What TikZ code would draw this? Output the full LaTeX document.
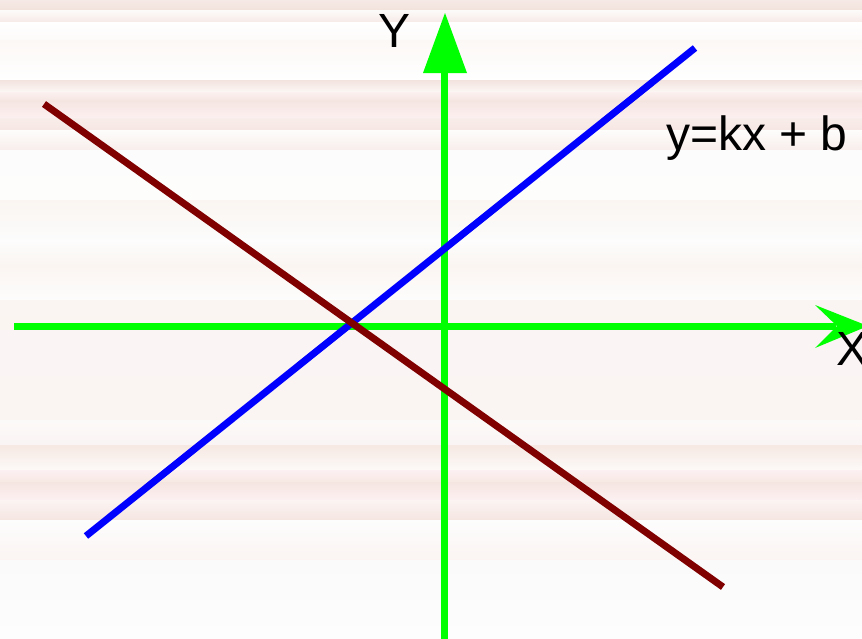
\documentclass[tikz,border=0pt]{standalone}
\usepackage{fontspec}
\setmainfont{Liberation Sans}
\begin{document}
\begin{tikzpicture}[x=1pt,y=-1pt,
  graphline/.style={line width=7pt},
  lbl/.style={font=\fontsize{48}{52}\selectfont, inner sep=0pt, text=black}]
\definecolor{axgreen}{RGB}{0,255,0}
\definecolor{lblue}{RGB}{0,0,255}
\definecolor{lmaroon}{RGB}{128,0,0}
\definecolor{c0}{HTML}{F2E2DC}
\definecolor{c1}{HTML}{F6EAE6}
\definecolor{c2}{HTML}{FDFBFA}
\definecolor{c3}{HTML}{FFFFFF}
\definecolor{c4}{HTML}{FCF8F6}
\definecolor{c5}{HTML}{F3E3DE}
\definecolor{c6}{HTML}{FCF0F0}
\definecolor{c7}{HTML}{F6E6E3}
\definecolor{c8}{HTML}{F8EDEA}
\definecolor{c9}{HTML}{FDFDFC}
\definecolor{c10}{HTML}{FCFCFC}
\definecolor{c11}{HTML}{FAF5F1}
\definecolor{c12}{HTML}{FDFDFD}
\definecolor{c13}{HTML}{FBF5F1}
\definecolor{c14}{HTML}{FAF4F3}
\definecolor{c15}{HTML}{FAF4F4}
\definecolor{c16}{HTML}{FCFAF8}
\definecolor{c17}{HTML}{F6E8E2}
\definecolor{c18}{HTML}{FDF0F2}
\definecolor{c19}{HTML}{F5E5E1}
\definecolor{c20}{HTML}{FBF4F2}
\definecolor{c21}{HTML}{FDFDFD}
\definecolor{c22}{HTML}{FBFAFA}
% background
\useasboundingbox (0,0) rectangle (862,638);
\foreach \ya/\yb/\ca/\cb in {0/10/c0/c1,10/22/c1/c2,22/40/c2/c3,40/80/c3/c4,80/92/c4/c5,92/102/c5/c6,102/118/c6/c7,118/130/c7/c8,130/150/c8/c9,150/200/c9/c10,200/240/c10/c11,240/265/c11/c12,265/300/c12/c13,300/330/c13/c14,330/420/c14/c15,420/445/c15/c16,445/470/c16/c17,470/482/c17/c18,482/500/c18/c19,500/520/c19/c20,520/560/c20/c21,560/638.5/c21/c22}
  \shade[top color=\ca, bottom color=\cb, shading angle=180] (0,\ya) rectangle (862,\yb+0.5);
% coordinates
\coordinate (xl) at (14,326);
\coordinate (xr) at (836,326);
\coordinate (yb) at (444,640);
\coordinate (yt) at (444,72);
\coordinate (b1) at (86,536);
\coordinate (b2) at (695,48);
\coordinate (m1) at (44,104);
\coordinate (m2) at (723,587);
% axes
\draw[axgreen, line width=7pt] (xl) -- (xr);
\draw[axgreen, line width=7pt] (yb) -- (yt);
\fill[axgreen] (445,13) -- (467,73) -- (423,73) -- cycle;
\fill[axgreen] (868,326) -- (815,305) -- (837,326) -- (815,348) -- cycle;
% lines
\draw[lblue, graphline] (b1) -- (b2);
\draw[lmaroon, graphline] (m1) -- (m2);
% labels
\node[lbl] (ylab) at (395,31) {Y};
\node[lbl] (xlab) at (852,349) {X};
\node[lbl, anchor=west] (eq) at (666,138) {y=kx + b};
\end{tikzpicture}
\end{document}
